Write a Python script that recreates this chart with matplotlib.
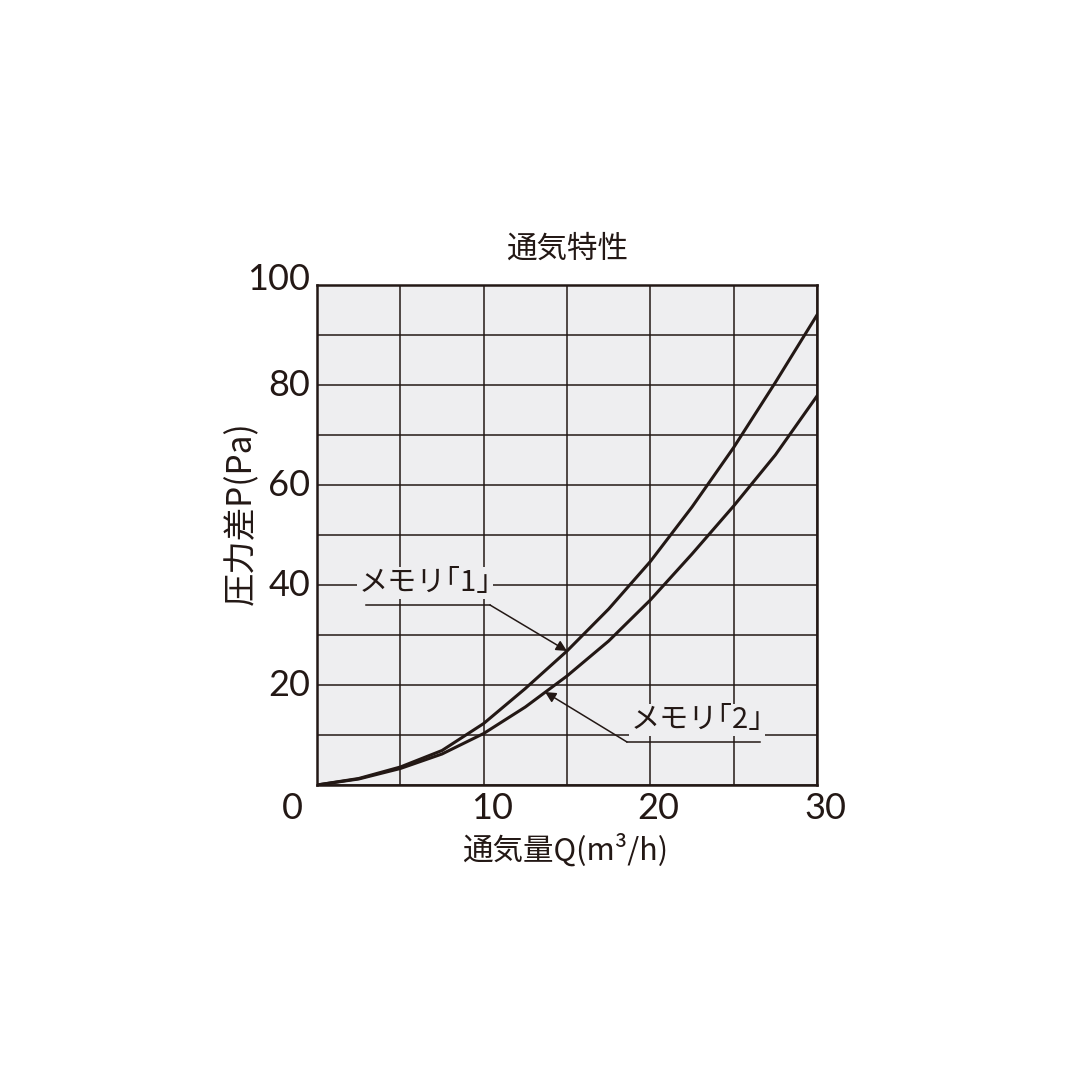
import matplotlib
matplotlib.use("Agg")
import matplotlib.pyplot as plt

plt.rcParams['font.family'] = ['Noto Sans CJK JP', 'DejaVu Sans']

# data
q = [0, 2.5, 5, 7.5, 10, 12.5, 15, 17.5, 20, 22.5, 25, 27.5, 30]
p_memori1 = [0, 1.3, 3.6, 6.9, 12.3, 19.3, 26.8, 35.2, 44.7, 55.6, 67.5, 80.5, 94.0]
p_memori2 = [0, 1.2, 3.3, 6.2, 10.3, 15.6, 21.8, 28.8, 37.0, 46.2, 55.8, 66.0, 77.8]
x_ticks = [0, 10, 20, 30]
y_ticks = [20, 40, 60, 80, 100]
label1 = 'メモリ｢1｣'
label2 = 'メモリ｢2｣'

ink = '#231815'
face = '#eeeef0'

fig = plt.figure(figsize=(10.8, 10.8), dpi=100)
ax = fig.add_axes([317/1080, 295/1080, 500/1080, 500/1080])
ax.set_facecolor(face)

ax.set_xlim(0, 30)
ax.set_ylim(0, 100)
ax.set_xticks(range(0, 31, 5))
ax.set_yticks(range(0, 101, 10))
ax.grid(True, color=ink, lw=1.1)
ax.set_axisbelow(True)
for s in ax.spines.values():
    s.set_color(ink)
    s.set_linewidth(1.8)

ax.plot(q, p_memori1, color=ink, lw=2.2, solid_joinstyle='round')
ax.plot(q, p_memori2, color=ink, lw=2.2, solid_joinstyle='round')

# tick labels drawn as text (the reference shifts them a little)
tick_font = dict(fontsize=26, color=ink, family=['Lato', 'DejaVu Sans'], fontweight='normal')
ax.tick_params(length=0, labelbottom=False, labelleft=False)
for v in x_ticks:
    xx = v + 0.5 if v else -1.5
    ax.text(xx, -1.4, str(v), ha='center', va='top', **tick_font)
for v in y_ticks:
    yy = v + 1.2 if v == 100 else v
    ax.text(-0.4, yy, str(v), ha='right', va='center', **tick_font)

ax.text(15, 104, '通気特性', ha='center', va='bottom', fontsize=22, color=ink)
ax.text(14.9, -9.6, '通気量Q(m³/h)', ha='center', va='top', fontsize=22, color=ink)
ax.text(-4.5, 54.4, '圧力差P(Pa)', ha='center', va='center', rotation=90, fontsize=24, color=ink)

# annotations
lab_font = dict(fontsize=21, color=ink, ha='center', va='center')
box = dict(facecolor=face, edgecolor='none', pad=1)
ax.text(6.5, 40.4, label1, bbox=box, **lab_font)
ax.plot([2.94, 10.38], [36, 36], color=ink, lw=1.1)
ax.annotate('', xy=(15.0, 26.8), xytext=(10.38, 36),
            arrowprops=dict(arrowstyle='-|>', color=ink, lw=1.1, mutation_scale=16, shrinkA=0, shrinkB=0))

ax.text(22.8, 13.0, label2, bbox=box, **lab_font)
ax.plot([18.6, 26.6], [8.6, 8.6], color=ink, lw=1.1)
ax.annotate('', xy=(13.68, 18.6), xytext=(18.6, 8.6),
            arrowprops=dict(arrowstyle='-|>', color=ink, lw=1.1, mutation_scale=16, shrinkA=0, shrinkB=0))

fig.savefig('out.png', dpi=100, facecolor='white')
